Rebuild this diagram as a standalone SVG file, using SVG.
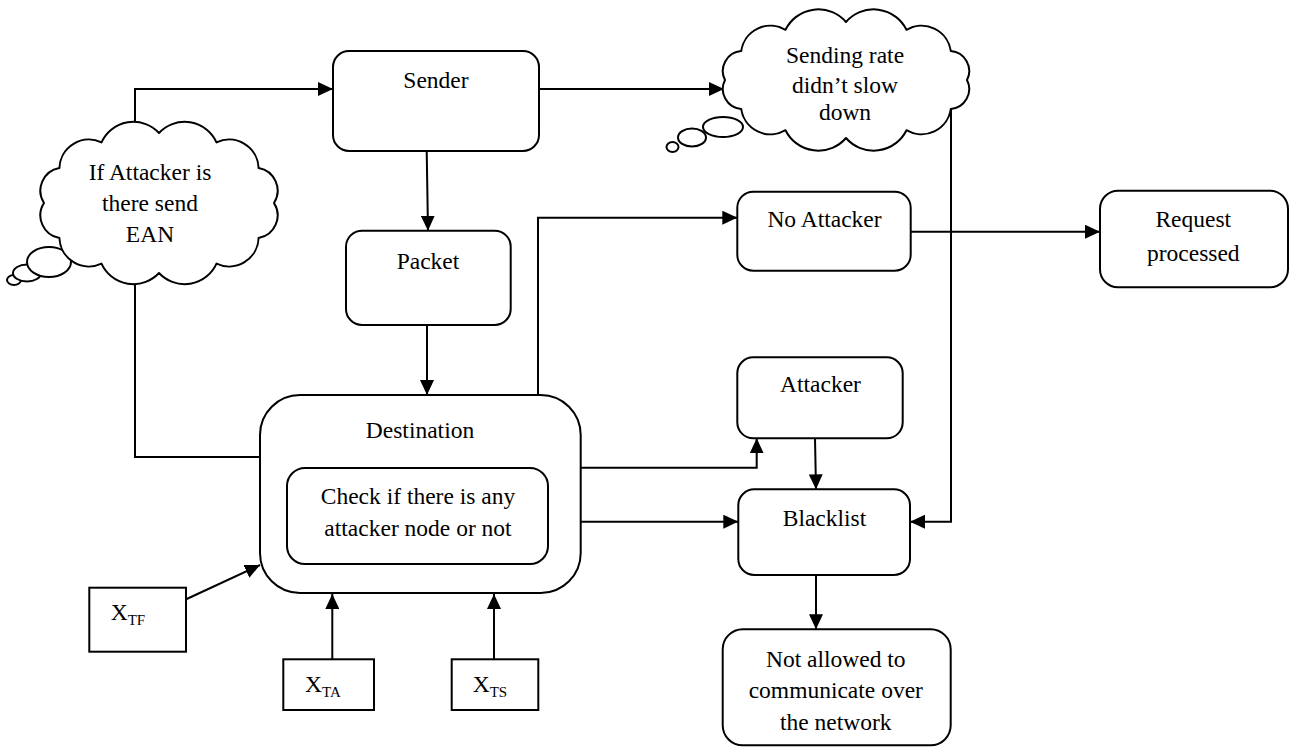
<svg xmlns="http://www.w3.org/2000/svg" width="1290" height="749" viewBox="0 0 1290 749">
<style>
  .box { fill: #fff; stroke: #000; stroke-width: 2; }
  .cloud { fill: #fff; stroke: #000; stroke-width: 2; stroke-linejoin: round; }
  .conn { fill: none; stroke: #000; stroke-width: 2; }
  .arr { marker-end: url(#ah); }
  text { font-family: "Liberation Serif", "Times New Roman", serif; font-size: 23.5px; fill: #000; }
  .c { text-anchor: middle; }
  .sub { font-size: 15px; }
</style>
<defs>
  <marker id="ah" markerUnits="userSpaceOnUse" markerWidth="15" markerHeight="14" refX="15" refY="7" orient="auto">
    <path d="M0,0 L15,7 L0,14 Z" fill="#000"/>
  </marker>
</defs>
<rect width="1290" height="749" fill="#fff"/>

<g id="connectors">
  <path class="conn arr" d="M135,150 V89 H333"/>
  <path class="conn" d="M135,270 V457 H261"/>
  <path class="conn arr" d="M539,89 H724"/>
  <path class="conn arr" d="M426.7,151 L428,230.7"/>
  <path class="conn arr" d="M427,325 V395"/>
  <path class="conn arr" d="M538,396 V217.7 H737.3"/>
  <path class="conn arr" d="M910.7,231.7 H1100"/>
  <path class="conn arr" d="M951,100 V521.7 H910"/>
  <path class="conn arr" d="M580,467.7 H756.7 V438.3"/>
  <path class="conn arr" d="M580,521.7 H738.3"/>
  <path class="conn arr" d="M815,438.3 L816,489.3"/>
  <path class="conn arr" d="M816,575 V629.3"/>
  <path class="conn arr" d="M186.7,599 L260,565"/>
  <path class="conn arr" d="M332.3,659.3 V594"/>
  <path class="conn arr" d="M494,659.3 V594"/>
</g>

<g id="cloud-ean">
  <ellipse class="cloud" cx="14" cy="280" rx="7" ry="5"/>
  <ellipse class="cloud" cx="27" cy="273" rx="14" ry="8.5"/>
  <ellipse class="cloud" cx="49" cy="262" rx="22" ry="15"/>
  <path class="cloud" d="M59.4,238 A23,23 0 0 1 44,203 A23,23 0 0 1 59.4,168 A29.5,29.5 0 0 1 101.5,142.4 A35,35 0 0 1 159,133 A35,35 0 0 1 216.5,142.4 A29.5,29.5 0 0 1 258.6,168 A23,23 0 0 1 274,203 A23,23 0 0 1 258.6,238 A29.5,29.5 0 0 1 216.5,263.6 A35,35 0 0 1 159,273 A35,35 0 0 1 101.5,263.6 A29.5,29.5 0 0 1 59.4,238 Z"/>
  <text class="c" x="150" y="180">If Attacker is</text>
  <text class="c" x="150" y="211">there send</text>
  <text class="c" x="150" y="242">EAN</text>
</g>

<g id="cloud-rate">
  <ellipse class="cloud" cx="672.5" cy="147" rx="6" ry="5"/>
  <ellipse class="cloud" cx="692" cy="137.5" rx="14" ry="9"/>
  <ellipse class="cloud" cx="723" cy="127" rx="20" ry="10"/>
  <path class="cloud" d="M741.2,109 A20,20 0 0 1 725,80 A20,20 0 0 1 741.2,51 A29.5,29.5 0 0 1 785.5,29.8 A36.6,36.6 0 0 1 846,22 A36.6,36.6 0 0 1 906.5,29.8 A29.5,29.5 0 0 1 950.8,51 A20,20 0 0 1 967,80 A20,20 0 0 1 950.8,109 A29.5,29.5 0 0 1 906.5,130.2 A36.6,36.6 0 0 1 846,138 A36.6,36.6 0 0 1 785.5,130.2 A29.5,29.5 0 0 1 741.2,109 Z"/>
  <text class="c" x="845" y="63">Sending rate</text>
  <text class="c" x="845" y="93">didn’t slow</text>
  <text class="c" x="845" y="120">down</text>
</g>

<g id="sender">
  <rect class="box" x="333" y="51" width="206" height="100" rx="16"/>
  <text class="c" x="436" y="88">Sender</text>
</g>

<g id="packet">
  <rect class="box" x="346" y="230.7" width="164.7" height="94.3" rx="16"/>
  <text class="c" x="428" y="269">Packet</text>
</g>

<g id="destination">
  <rect class="box" x="260" y="395" width="320.7" height="198" rx="40"/>
  <text class="c" x="420" y="438">Destination</text>
  <rect class="box" x="287" y="468" width="261" height="96" rx="18"/>
  <text class="c" x="418" y="504">Check if there is any</text>
  <text class="c" x="418" y="535.6">attacker node or not</text>
</g>

<g id="no-attacker">
  <rect class="box" x="737.3" y="191.7" width="173.4" height="79" rx="16"/>
  <text class="c" x="824.5" y="226.7">No Attacker</text>
</g>

<g id="request">
  <rect class="box" x="1100" y="190.7" width="188" height="96.6" rx="18"/>
  <text class="c" x="1193.3" y="226.7">Request</text>
  <text class="c" x="1193.3" y="261">processed</text>
</g>

<g id="attacker">
  <rect class="box" x="737.3" y="357.3" width="165.4" height="81" rx="16"/>
  <text class="c" x="820.5" y="391.7">Attacker</text>
</g>

<g id="blacklist">
  <rect class="box" x="738.3" y="489.3" width="171.7" height="85.7" rx="16"/>
  <text class="c" x="824.5" y="525.7">Blacklist</text>
</g>

<g id="not-allowed">
  <rect class="box" x="722.7" y="629.3" width="228" height="116" rx="20"/>
  <text class="c" x="835.8" y="667.3">Not allowed to</text>
  <text class="c" x="835.8" y="698.3">communicate over</text>
  <text class="c" x="835.8" y="730">the network</text>
</g>

<g id="x-tf">
  <rect class="box" x="89.3" y="587.7" width="96.7" height="64"/>
  <text x="110.7" y="620">X<tspan class="sub" dy="5">TF</tspan></text>
</g>

<g id="x-ta">
  <rect class="box" x="283.3" y="659.3" width="90.7" height="50.7"/>
  <text x="305" y="692.3">X<tspan class="sub" dy="5">TA</tspan></text>
</g>

<g id="x-ts">
  <rect class="box" x="451.7" y="659.3" width="86.6" height="50.7"/>
  <text x="472.7" y="692.3">X<tspan class="sub" dy="5">TS</tspan></text>
</g>
</svg>
